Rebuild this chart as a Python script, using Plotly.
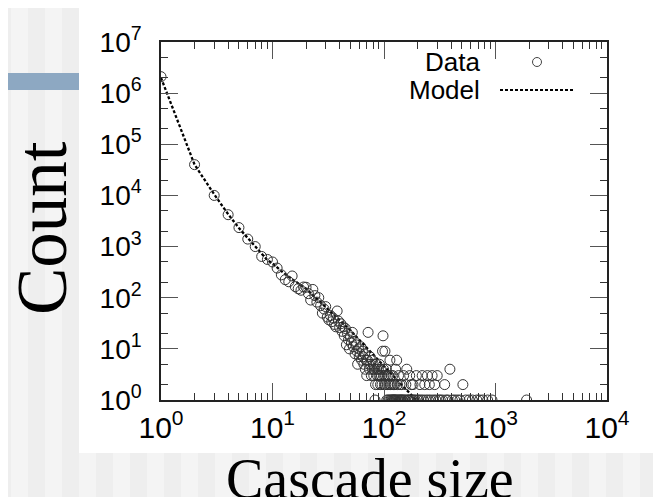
import plotly.graph_objects as go

# observed cascade sizes and how often each one occurs
data_size = [1, 2, 3, 4, 5, 6, 7, 8, 9, 10, 11, 12, 13, 14, 15, 16, 17, 18, 19, 20,
             21, 22, 23, 24, 25, 26, 27, 28, 29, 30, 31, 32, 33, 34, 35, 36, 37, 38, 39, 40,
             41, 42, 43, 44, 45, 46, 47, 48, 49, 50, 51, 52, 53, 54, 55, 56, 57, 58, 59, 60,
             61, 62, 63, 64, 65, 66, 67, 68, 69, 70, 71, 72, 73, 74, 75, 76, 77, 78, 79, 80,
             81, 82, 83, 84, 85, 86, 87, 88, 89, 90, 91, 92, 93, 94, 95, 96, 97, 98, 99, 100,
             101, 102, 103, 104, 105, 106, 107, 108, 109, 110, 111, 112, 113, 114, 115, 116,
             117, 118, 119, 120, 121, 122, 123, 124, 125, 126, 127, 128, 130, 131, 132, 134,
             135, 137, 139, 140, 142, 144, 145, 147, 150, 152, 155, 157, 160, 162, 165, 168,
             170, 173, 176, 180, 182, 185, 190, 195, 200, 205, 210, 215, 220, 225, 232, 238,
             245, 250, 255, 262, 270, 278, 285, 292, 300, 310, 320, 335, 350, 360, 375, 390,
             410, 430, 455, 480, 510, 540, 580, 620, 680, 720, 770, 850, 930, 1900]
data_count = [2100000, 40000, 10000, 4200, 2350, 1400, 1000, 640, 560, 500, 380, 280, 225, 205, 266, 165, 150, 140, 162, 160,
              120, 90, 145, 110, 82, 100, 70, 50, 60, 67, 42, 37, 45, 34, 40, 30, 27, 55, 35, 26,
              31, 22, 27, 18, 25, 12, 20, 15, 10, 17, 13, 21, 11, 14, 8, 12, 9, 5, 10, 7,
              8, 11, 6, 9, 7, 5, 8, 4, 6, 3, 6, 21, 5, 4, 7, 5, 3, 6, 4, 5,
              3, 4, 1, 2, 5, 4, 3, 2, 4, 3, 5, 3, 2, 4, 3, 2, 9, 18, 4, 3,
              2, 9, 3, 2, 4, 1, 3, 2, 1, 3, 2, 1, 6, 2, 1, 3,
              1, 2, 1, 3, 1, 2, 1, 1, 2, 1, 4, 1, 6, 1, 2, 1,
              3, 1, 2, 1, 1, 2, 1, 1, 3, 1, 1, 2, 4, 1, 1, 1,
              3, 1, 2, 1, 2, 1, 1, 3, 1, 1, 2, 1, 3, 1, 2, 1,
              3, 1, 2, 1, 3, 1, 2, 1, 3, 1, 1, 1, 2, 1, 1, 4,
              1, 1, 1, 1, 2, 1, 1, 1, 1, 1, 1, 1, 1, 1]

# model curve
model_size = [1, 2, 3, 4, 5, 6, 7, 8, 9, 10, 12, 15, 20, 25, 30, 40, 50, 60, 70, 80,
              100, 120, 150, 183, 200, 230]
model_count = [2000000, 40000, 10500, 4300, 2300, 1450, 980, 700, 540, 470, 330, 230, 150, 95, 65, 36, 23, 15, 10.5, 7.5,
               4.4, 2.9, 1.8, 1.15, 0.95, 0.7]

x_tickvals = [1, 10, 100, 1000, 10000]
x_ticktext = ["10<sup>0</sup>", "10<sup>1</sup>", "10<sup>2</sup>", "10<sup>3</sup>", "10<sup>4</sup>"]
y_tickvals = [1, 10, 100, 1000, 10000, 100000, 1000000, 10000000]
y_ticktext = ["10<sup>%d</sup>" % i for i in range(8)]

# the page has an 8px body margin, so the figure is sized to fill what is left
OFF = 8
W, H = 661 - OFF, 497 - OFF
L, R, T, B = 161 - OFF, 54, 42 - OFF, 97


def px_x(p):
    # page pixel -> paper fraction
    return (p - OFF - L) / (W - L - R)


def px_y(p):
    return (H - B - (p - OFF)) / (H - T - B)


fig = go.Figure()
fig.add_trace(go.Scatter(
    x=model_size, y=model_count, mode="lines",
    line=dict(color="black", width=2.3, dash="3px,2px"),
    showlegend=False, hoverinfo="skip"))
fig.add_trace(go.Scatter(
    x=data_size, y=data_count, mode="markers",
    marker=dict(symbol="circle-open", size=10, color="#333333", line=dict(width=1)),
    showlegend=False))

# slide background: stripes, white card, blue bar
shapes = [dict(type="rect", xref="paper", yref="paper", x0=px_x(0), x1=px_x(670), y0=px_y(0), y1=px_y(505),
               fillcolor="#eeeeee", line=dict(width=0), layer="below")]
sx = 11
while sx < 661:
    shapes.append(dict(type="rect", xref="paper", yref="paper", x0=px_x(sx), x1=px_x(sx + 17),
                       y0=px_y(0), y1=px_y(505), fillcolor="#f4f4f4", line=dict(width=0), layer="below"))
    sx += 34
shapes.append(dict(type="rect", xref="paper", yref="paper", x0=px_x(79), x1=px_x(670), y0=px_y(7), y1=px_y(453),
                   fillcolor="white", line=dict(width=0), layer="below"))
shapes.append(dict(type="rect", xref="paper", yref="paper", x0=px_x(0), x1=px_x(79), y0=px_y(73), y1=px_y(90),
                   fillcolor="#8da8c2", line=dict(width=0), layer="below"))
# legend samples
shapes.append(dict(type="circle", xref="paper", yref="paper", x0=px_x(532.5), x1=px_x(541.5), y0=px_y(57.5), y1=px_y(66.5),
                   line=dict(color="#444444", width=1)))
shapes.append(dict(type="line", xref="paper", yref="paper", x0=px_x(500), x1=px_x(573), y0=px_y(90), y1=px_y(90),
                   line=dict(color="black", width=2, dash="3px,2px")))

annotations = [
    dict(text="Data", xref="paper", yref="paper", x=px_x(482), y=px_y(62), xanchor="right", yanchor="middle",
         showarrow=False, font=dict(family="Liberation Sans, Arial", size=26, color="black")),
    dict(text="Model", xref="paper", yref="paper", x=px_x(482), y=px_y(90), xanchor="right", yanchor="middle",
         showarrow=False, font=dict(family="Liberation Sans, Arial", size=26, color="black")),
    dict(text="Count", xref="paper", yref="paper", x=px_x(42), y=px_y(228), xanchor="center", yanchor="middle",
         textangle=-90, showarrow=False, font=dict(family="Liberation Serif, Times New Roman", size=71, color="black")),
    dict(text="Cascade size", xref="paper", yref="paper", x=px_x(370), y=px_y(479), xanchor="center", yanchor="middle",
         showarrow=False, font=dict(family="Liberation Serif, Times New Roman", size=56, color="black")),
]

axis_common = dict(type="log", showgrid=False, zeroline=False, showline=True, linecolor="#222222", linewidth=1.5,
                   mirror="ticks", ticks="inside", ticklen=17, tickcolor="#555555", tickwidth=1.3)
fig.update_xaxes(range=[0, 4], tickvals=x_tickvals, ticktext=x_ticktext,
                 tickfont=dict(family="Liberation Sans, Arial", size=30, color="black"), ticklabelstandoff=0,
                 minor=dict(ticks="inside", ticklen=7, tickcolor="#333333", tickwidth=1.2,
                            tickvals=[m * 10 ** d for d in range(4) for m in range(2, 10)]),
                 **axis_common)
fig.update_yaxes(range=[0, 7], tickvals=y_tickvals, ticktext=y_ticktext,
                 tickfont=dict(family="Liberation Sans, Arial", size=28, color="black"), ticklabelstandoff=12,
                 minor=dict(ticks="inside", ticklen=7, tickcolor="#333333", tickwidth=1.2,
                            tickvals=[m * 10 ** d for d in range(7) for m in (2, 5)]),
                 **axis_common)
fig.update_layout(width=W, height=H, margin=dict(l=L, r=R, t=T, b=B),
                  paper_bgcolor="#eeeeee", plot_bgcolor="white",
                  shapes=shapes, annotations=annotations, showlegend=False)
fig.write_html("out.html")
